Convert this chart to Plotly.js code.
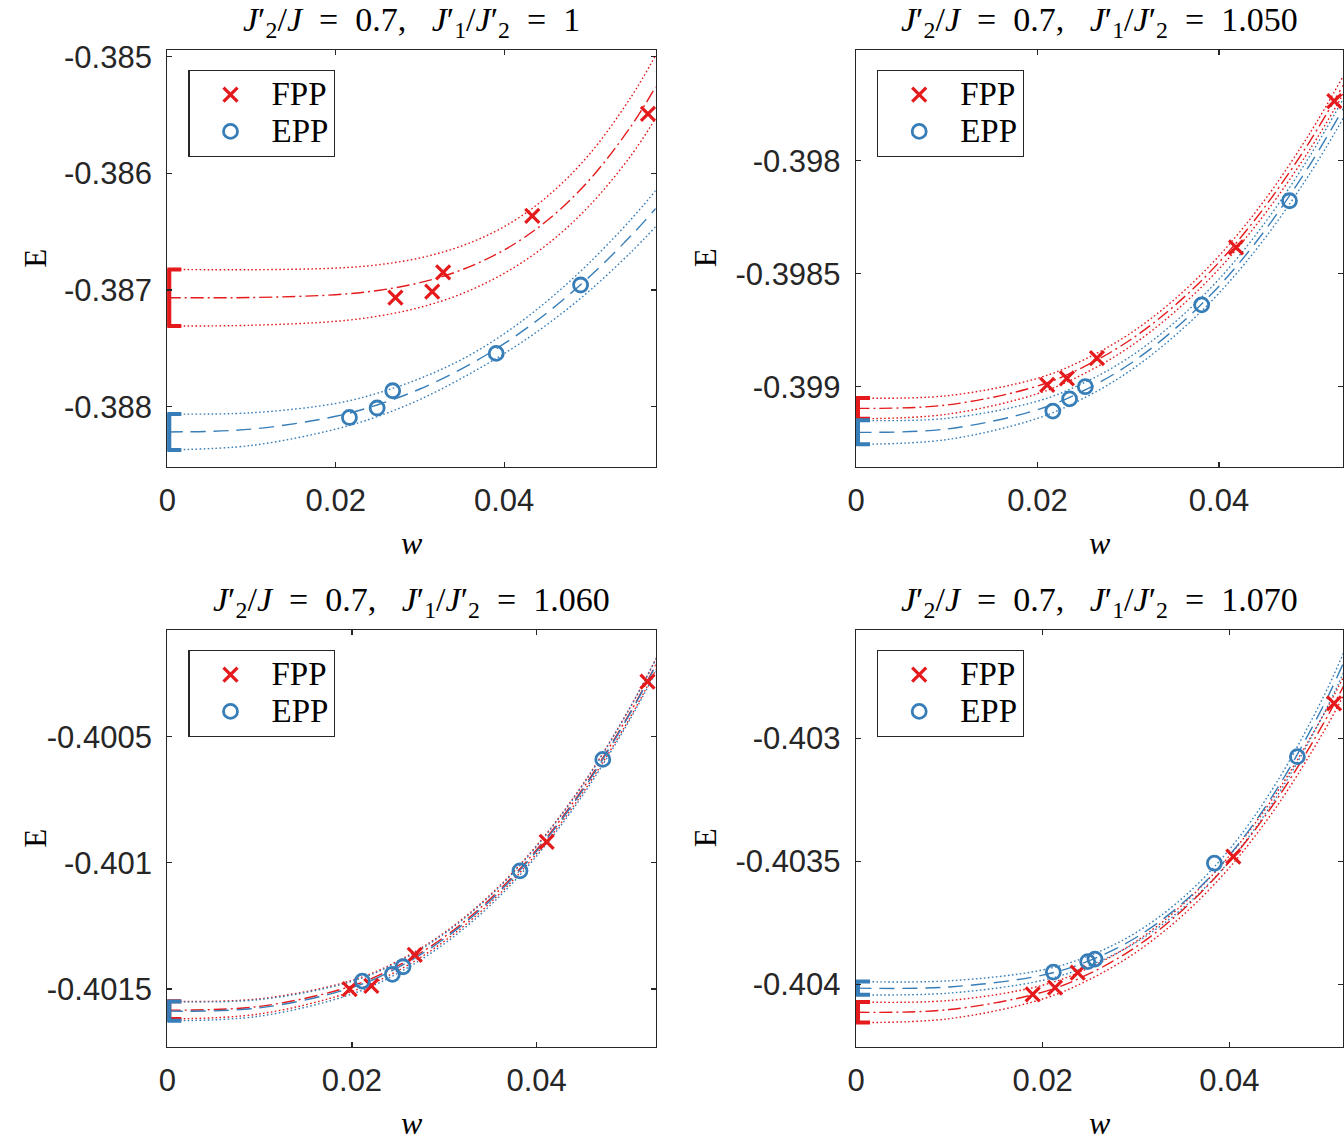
<!DOCTYPE html>
<html>
<head>
<meta charset="utf-8">
<script src="https://cdn.plot.ly/plotly-3.0.1.min.js"></script>
<style>
  html, body { margin: 0; padding: 0; background: #fff; }
  #chart { width: 1344px; height: 1142px; }
</style>
</head>
<body>
<div id="chart"></div>
<script>
// ---------- Panel 1: J2'/J = 0.7, J1'/J2' = 1 ----------
const p1_fpp_w = [0.02709, 0.03146, 0.03276, 0.04334, 0.05708];
const p1_fpp_E = [-0.387066, -0.387014, -0.386848, -0.386365, -0.385491];
const p1_epp_w = [0.02163, 0.02492, 0.02677, 0.03906, 0.04908];
const p1_epp_E = [-0.388092, -0.388011, -0.387863, -0.387543, -0.386957];
const p1_fit_w = [0, 0.01, 0.02, 0.025, 0.03, 0.035, 0.04, 0.045, 0.05, 0.055, 0.058];
const p1_fpp_fit = [-0.387066, -0.387064, -0.387040, -0.387004, -0.386937, -0.386826, -0.386657, -0.386411, -0.386067, -0.385604, -0.385258];
const p1_fpp_hi  = [-0.386823, -0.386826, -0.386812, -0.386784, -0.386725, -0.386621, -0.386457, -0.386206, -0.385847, -0.385354, -0.384988];
const p1_fpp_lo  = [-0.387309, -0.387302, -0.387268, -0.387224, -0.387149, -0.387031, -0.386857, -0.386616, -0.386287, -0.385854, -0.385528];
const p1_epp_fit = [-0.388216, -0.388192, -0.388082, -0.387983, -0.387848, -0.387674, -0.387460, -0.387201, -0.386895, -0.386540, -0.386302];
const p1_epp_hi  = [-0.388062, -0.388052, -0.387972, -0.387883, -0.387758, -0.387594, -0.387375, -0.387101, -0.386775, -0.386400, -0.386147];
const p1_epp_lo  = [-0.388370, -0.388332, -0.388192, -0.388083, -0.387938, -0.387754, -0.387545, -0.387301, -0.387015, -0.386680, -0.386457];
const p1_fpp_E0 = -0.387066, p1_fpp_err = 0.000243;
const p1_epp_E0 = -0.388216, p1_epp_err = 0.000154;
const p1_yticks = [-0.388, -0.387, -0.386, -0.385];
const p1_ylabels = ['-0.388', '-0.387', '-0.386', '-0.385'];
const p1_xrange = [0, 0.058];
const p1_yrange = [-0.388514, -0.384943];

// ---------- Panel 2: J1'/J2' = 1.050 ----------
const p2_fpp_w = [0.02107, 0.02324, 0.02655, 0.04188, 0.05271];
const p2_fpp_E = [-0.398992, -0.398963, -0.398874, -0.398383, -0.397736];
const p2_epp_w = [0.02169, 0.02354, 0.02527, 0.03809, 0.04777];
const p2_epp_E = [-0.399108, -0.399054, -0.399000, -0.398638, -0.398177];
const p2_fit_w = [0, 0.01, 0.02, 0.025, 0.03, 0.035, 0.04, 0.045, 0.05, 0.0537];
const p2_fpp_fit = [-0.399096, -0.399081, -0.398997, -0.398914, -0.398799, -0.398645, -0.398450, -0.398207, -0.397915, -0.397665];
const p2_fpp_hi  = [-0.399050, -0.399040, -0.398963, -0.398883, -0.398770, -0.398617, -0.398421, -0.398176, -0.397879, -0.397625];
const p2_fpp_lo  = [-0.399142, -0.399122, -0.399031, -0.398945, -0.398828, -0.398673, -0.398479, -0.398238, -0.397951, -0.397705];
const p2_epp_fit = [-0.399202, -0.399187, -0.399102, -0.399019, -0.398904, -0.398749, -0.398555, -0.398312, -0.398019, -0.397769];
const p2_epp_hi  = [-0.399149, -0.399140, -0.399064, -0.398985, -0.398873, -0.398719, -0.398524, -0.398278, -0.397980, -0.397726];
const p2_epp_lo  = [-0.399255, -0.399234, -0.399140, -0.399053, -0.398935, -0.398779, -0.398586, -0.398346, -0.398058, -0.397812];
const p2_fpp_E0 = -0.399096, p2_fpp_err = 0.000046;
const p2_epp_E0 = -0.399202, p2_epp_err = 0.000053;
const p2_yticks = [-0.399, -0.3985, -0.398];
const p2_ylabels = ['-0.399', '-0.3985', '-0.398'];
const p2_xrange = [0, 0.0537];
const p2_yrange = [-0.399354, -0.39751];

// ---------- Panel 3: J1'/J2' = 1.060 ----------
const p3_fpp_w = [0.01975, 0.02210, 0.02680, 0.04109, 0.05201];
const p3_fpp_E = [-0.401501, -0.401488, -0.401365, -0.400917, -0.400282];
const p3_epp_w = [0.02113, 0.02438, 0.02553, 0.03820, 0.04717];
const p3_epp_E = [-0.401469, -0.401442, -0.401412, -0.401032, -0.400590];
const p3_fit_w = [0, 0.01, 0.02, 0.025, 0.03, 0.035, 0.04, 0.045, 0.05, 0.053];
const p3_fpp_fit = [-0.401584, -0.401569, -0.401488, -0.401408, -0.401294, -0.401142, -0.400948, -0.400706, -0.400412, -0.400208];
const p3_fpp_hi  = [-0.401549, -0.401539, -0.401466, -0.401389, -0.401277, -0.401126, -0.400932, -0.400689, -0.400392, -0.400186];
const p3_fpp_lo  = [-0.401619, -0.401599, -0.401510, -0.401427, -0.401311, -0.401158, -0.400964, -0.400723, -0.400432, -0.400230];
const p3_epp_fit = [-0.401588, -0.401575, -0.401495, -0.401415, -0.401301, -0.401149, -0.400954, -0.400712, -0.400416, -0.400212];
const p3_epp_hi  = [-0.401550, -0.401542, -0.401470, -0.401393, -0.401281, -0.401130, -0.400935, -0.400692, -0.400393, -0.400187];
const p3_epp_lo  = [-0.401626, -0.401608, -0.401520, -0.401437, -0.401321, -0.401168, -0.400973, -0.400732, -0.400439, -0.400237];
const p3_fpp_E0 = -0.401584, p3_fpp_err = 0.000035;
const p3_epp_E0 = -0.401588, p3_epp_err = 0.000038;
const p3_yticks = [-0.4015, -0.401, -0.4005];
const p3_ylabels = ['-0.4015', '-0.401', '-0.4005'];
const p3_xrange = [0, 0.0529];
const p3_yrange = [-0.401729, -0.400077];

// ---------- Panel 4: J1'/J2' = 1.070 ----------
const p4_fpp_w = [0.01893, 0.02132, 0.02375, 0.04042, 0.05121];
const p4_fpp_E = [-0.404041, -0.404014, -0.403953, -0.403481, -0.402858];
const p4_epp_w = [0.02114, 0.02482, 0.02560, 0.03839, 0.04728];
const p4_epp_E = [-0.403951, -0.403908, -0.403898, -0.403508, -0.403075];
const p4_fit_w = [0, 0.01, 0.02, 0.025, 0.03, 0.035, 0.04, 0.045, 0.05, 0.0522];
const p4_fpp_fit = [-0.404114, -0.404103, -0.404032, -0.403957, -0.403848, -0.403698, -0.403502, -0.403253, -0.402945, -0.402790];
const p4_fpp_hi  = [-0.404072, -0.404066, -0.404004, -0.403933, -0.403826, -0.403676, -0.403478, -0.403225, -0.402910, -0.402752];
const p4_fpp_lo  = [-0.404156, -0.404140, -0.404060, -0.403981, -0.403870, -0.403720, -0.403526, -0.403281, -0.402980, -0.402828];
const p4_epp_fit = [-0.404016, -0.404011, -0.403963, -0.403904, -0.403810, -0.403670, -0.403476, -0.403212, -0.402873, -0.402695];
const p4_epp_hi  = [-0.403989, -0.403986, -0.403942, -0.403884, -0.403790, -0.403649, -0.403452, -0.403183, -0.402837, -0.402655];
const p4_epp_lo  = [-0.404043, -0.404036, -0.403984, -0.403924, -0.403830, -0.403691, -0.403500, -0.403241, -0.402909, -0.402735];
const p4_fpp_E0 = -0.404114, p4_fpp_err = 0.000042;
const p4_epp_E0 = -0.404016, p4_epp_err = 0.000027;
const p4_yticks = [-0.404, -0.4035, -0.403];
const p4_ylabels = ['-0.404', '-0.4035', '-0.403'];
const p4_xrange = [0, 0.0522];
const p4_yrange = [-0.404254, -0.40256];

// shared x ticks and panel titles
const xTicks = [0, 0.02, 0.04];
const xTickLabels = ['0', '0.02', '0.04'];
const ratioLabels = ['1', '1.050', '1.060', '1.070'];
const seriesNames = ['FPP', 'EPP'];

const RED = '#e41a1c';
const BLUE = '#377eb8';
const AXIS = '#262626';

const W = 1344, H = 1142;
// plot boxes in pixels: [left, right, top, bottom]
const boxes = [
  [167.3, 655.7, 50, 466.7],
  [856, 1343.3, 50, 466.7],
  [167.3, 655.7, 630, 1046.7],
  [856, 1343.3, 630, 1046.7]
];
// horizontal offset of the "E" label left of each box
const yTitleOffset = [132, 151, 132, 151];

const panels = [
  {fw: p1_fpp_w, fE: p1_fpp_E, ew: p1_epp_w, eE: p1_epp_E, gw: p1_fit_w,
   ff: p1_fpp_fit, fh: p1_fpp_hi, fl: p1_fpp_lo, ef: p1_epp_fit, eh: p1_epp_hi, el: p1_epp_lo,
   fE0: p1_fpp_E0, fErr: p1_fpp_err, eE0: p1_epp_E0, eErr: p1_epp_err,
   yt: p1_yticks, yl: p1_ylabels, xr: p1_xrange, yr: p1_yrange},
  {fw: p2_fpp_w, fE: p2_fpp_E, ew: p2_epp_w, eE: p2_epp_E, gw: p2_fit_w,
   ff: p2_fpp_fit, fh: p2_fpp_hi, fl: p2_fpp_lo, ef: p2_epp_fit, eh: p2_epp_hi, el: p2_epp_lo,
   fE0: p2_fpp_E0, fErr: p2_fpp_err, eE0: p2_epp_E0, eErr: p2_epp_err,
   yt: p2_yticks, yl: p2_ylabels, xr: p2_xrange, yr: p2_yrange},
  {fw: p3_fpp_w, fE: p3_fpp_E, ew: p3_epp_w, eE: p3_epp_E, gw: p3_fit_w,
   ff: p3_fpp_fit, fh: p3_fpp_hi, fl: p3_fpp_lo, ef: p3_epp_fit, eh: p3_epp_hi, el: p3_epp_lo,
   fE0: p3_fpp_E0, fErr: p3_fpp_err, eE0: p3_epp_E0, eErr: p3_epp_err,
   yt: p3_yticks, yl: p3_ylabels, xr: p3_xrange, yr: p3_yrange},
  {fw: p4_fpp_w, fE: p4_fpp_E, ew: p4_epp_w, eE: p4_epp_E, gw: p4_fit_w,
   ff: p4_fpp_fit, fh: p4_fpp_hi, fl: p4_fpp_lo, ef: p4_epp_fit, eh: p4_epp_hi, el: p4_epp_lo,
   fE0: p4_fpp_E0, fErr: p4_fpp_err, eE0: p4_epp_E0, eErr: p4_epp_err,
   yt: p4_yticks, yl: p4_ylabels, xr: p4_xrange, yr: p4_yrange}
];

const traces = [];
const layout = {
  width: W, height: H,
  margin: {l: 0, r: 0, t: 0, b: 0},
  paper_bgcolor: '#fff', plot_bgcolor: '#fff',
  font: {family: 'Liberation Sans, Arial, sans-serif', color: AXIS},
  annotations: []
};

const DOT = '1.6px,2.4px';
const serif = 'Liberation Serif, Times New Roman, serif';
const sp = '\u00a0';

function titleText(ratio) {
  return '<i>J</i>′<sub>2</sub>/<i>J</i>' + sp + sp + '=' + sp + sp + '0.7,' + sp + sp + sp +
    '<i>J</i>′<sub>1</sub>/<i>J</i>′<sub>2</sub>' + sp + sp + '=' + sp + sp + ratio;
}

panels.forEach((p, i) => {
  const n = i === 0 ? '' : String(i + 1);
  const xa = 'x' + n, ya = 'y' + n;
  const lg = 'legend' + n;
  const [l, r, t, b] = boxes[i];

  const line = (x, y, color, dash) => ({
    x, y, xaxis: xa, yaxis: ya, type: 'scatter', mode: 'lines',
    line: {color, dash, width: 1.4, shape: 'spline'},
    showlegend: false, hoverinfo: 'skip'
  });

  // fitted curves and their confidence bands
  traces.push(line(p.gw, p.fh, RED, DOT));
  traces.push(line(p.gw, p.fl, RED, DOT));
  traces.push(line(p.gw, p.eh, BLUE, DOT));
  traces.push(line(p.gw, p.el, BLUE, DOT));
  traces.push(line(p.gw, p.ff, RED, '13px,4px,2px,4px'));
  traces.push(line(p.gw, p.ef, BLUE, '15px,8px'));

  // extrapolated values at w = 0: a heavy bar plus thinner end caps
  [[p.fE0, p.fErr, RED], [p.eE0, p.eErr, BLUE]].forEach(([e0, err, c]) => {
    traces.push({
      x: [0], y: [e0], xaxis: xa, yaxis: ya, type: 'scatter', mode: 'markers',
      marker: {size: 1, opacity: 0},
      error_y: {type: 'data', array: [err], visible: true, color: c, thickness: 8, width: 0},
      showlegend: false, hoverinfo: 'skip'
    });
    traces.push({
      x: [0], y: [e0], xaxis: xa, yaxis: ya, type: 'scatter', mode: 'markers',
      marker: {size: 1, opacity: 0},
      error_y: {type: 'data', array: [err], visible: true, color: c, thickness: 4, width: 14},
      showlegend: false, hoverinfo: 'skip'
    });
  });

  // measured points
  traces.push({
    x: p.fw, y: p.fE, xaxis: xa, yaxis: ya, type: 'scatter', mode: 'markers',
    name: '<span style="font-size:33px">' + seriesNames[0] + '</span>', legend: lg,
    marker: {symbol: 'x-thin-open', size: 14, color: RED, line: {color: RED, width: 3.2}},
    cliponaxis: false
  });
  traces.push({
    x: p.ew, y: p.eE, xaxis: xa, yaxis: ya, type: 'scatter', mode: 'markers',
    name: '<span style="font-size:33px">' + seriesNames[1] + '</span>', legend: lg,
    marker: {symbol: 'circle-open', size: 14, color: BLUE, line: {color: BLUE, width: 2.8}},
    cliponaxis: false
  });

  const axCommon = {
    showline: true, linecolor: AXIS, linewidth: 1.2, mirror: 'ticks',
    ticks: 'inside', ticklen: 5, tickwidth: 1.2, tickcolor: AXIS,
    showgrid: false, zeroline: false, fixedrange: true,
    tickfont: {family: 'Liberation Sans, Arial, sans-serif', size: 31, color: AXIS}
  };
  layout['xaxis' + n] = Object.assign({}, axCommon, {
    domain: [l / W, r / W], anchor: ya, range: p.xr,
    tickmode: 'array', tickvals: xTicks, ticktext: xTickLabels,
    ticklabelstandoff: 6
  });
  layout['yaxis' + n] = Object.assign({}, axCommon, {
    domain: [1 - b / H, 1 - t / H], anchor: xa, range: p.yr,
    tickmode: 'array', tickvals: p.yt, ticktext: p.yl,
    ticklabelstandoff: 8
  });

  layout[lg] = {
    x: (l + 21) / W, y: 1 - (t + 20) / H, xanchor: 'left', yanchor: 'top',
    bgcolor: '#fff', bordercolor: AXIS, borderwidth: 1.2,
    font: {family: serif, size: 26, color: '#000'},
    itemwidth: 72, tracegroupgap: 0
  };

  const cx = (l + r) / 2 / W;
  layout.annotations.push({
    xref: 'paper', yref: 'paper', x: cx, y: 1 - (t - 28) / H,
    xanchor: 'center', yanchor: 'middle', showarrow: false,
    text: titleText(ratioLabels[i]),
    font: {family: serif, size: 34, color: '#000'}
  });
  layout.annotations.push({
    xref: 'paper', yref: 'paper', x: cx, y: 1 - (b + 76) / H,
    xanchor: 'center', yanchor: 'middle', showarrow: false,
    text: '<i>w</i>', font: {family: serif, size: 32, color: '#000'}
  });
  layout.annotations.push({
    xref: 'paper', yref: 'paper', x: (l - yTitleOffset[i]) / W, y: 1 - ((t + b) / 2) / H,
    xanchor: 'center', yanchor: 'middle', showarrow: false, textangle: -90,
    text: 'E', font: {family: serif, size: 31, color: '#000'}
  });
});

Plotly.newPlot('chart', traces, layout, {staticPlot: true, displayModeBar: false});
</script>
</body>
</html>
